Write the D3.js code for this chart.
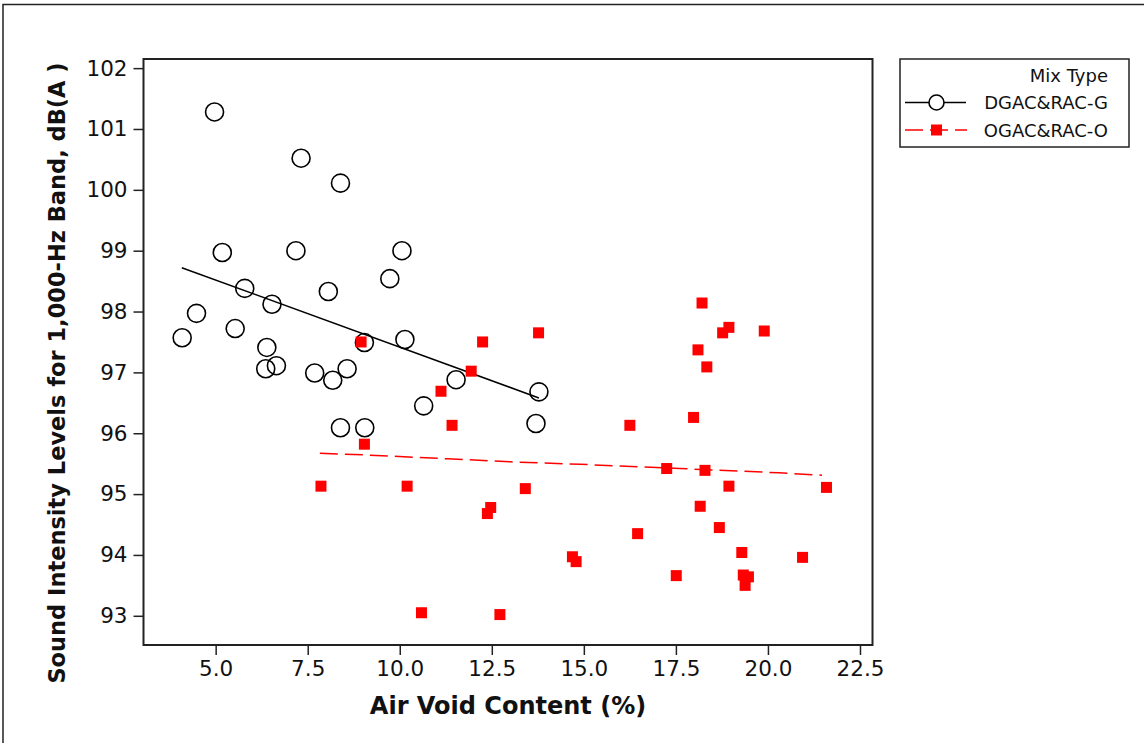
<!DOCTYPE html>
<html>
<head>
<meta charset="utf-8">
<script src="https://cdn.jsdelivr.net/npm/d3@7"></script>
<style>
  html, body { margin: 0; padding: 0; background: #fff; }
  svg { display: block; }
  text { font-family: "DejaVu Sans", Verdana, sans-serif; fill: #111; }
</style>
</head>
<body>
<svg id="chart" width="1144" height="743"></svg>
<script>
// ---- Data ----
const seriesNames = ["DGAC&RAC-G", "OGAC&RAC-O"];
const legendTitle = "Mix Type";
const xTitle = "Air Void Content (%)";
const yTitle = "Sound Intensity Levels for 1,000-Hz Band,  dB(A )";
const xTickValues = [5.0, 7.5, 10.0, 12.5, 15.0, 17.5, 20.0, 22.5];
const yTickValues = [93, 94, 95, 96, 97, 98, 99, 100, 101, 102];

// DGAC&RAC-G (open circles)
const dgacX = [4.97, 7.32, 8.39, 5.18, 7.18, 10.06, 9.73, 5.79, 8.06, 6.53, 4.48, 5.53, 4.09, 9.04,
               10.14, 6.39, 6.36, 6.65, 7.69, 8.18, 8.57, 10.65, 8.39, 9.05, 11.53, 13.78, 13.70];
const dgacY = [101.28, 100.52, 100.11, 98.97, 99.00, 99.00, 98.54, 98.38, 98.33, 98.12, 97.97, 97.72, 97.57, 97.49,
               97.54, 97.41, 97.06, 97.11, 96.99, 96.87, 97.06, 96.45, 96.09, 96.09, 96.88, 96.68, 96.16];

// OGAC&RAC-O (filled squares)
const ogacX = [8.95, 12.25, 13.77, 11.94, 11.12, 11.42, 9.04, 7.86, 10.20, 13.41, 12.47, 12.38, 14.69, 14.79, 10.59, 12.72,
               18.21, 18.94, 18.77, 19.90, 18.10, 18.34, 17.98, 16.25, 17.25, 18.29, 18.94, 21.59, 18.16, 18.68, 16.46,
               19.29, 20.94, 17.51, 19.33, 19.47, 19.38];
const ogacY = [97.50, 97.50, 97.65, 97.02, 96.69, 96.13, 95.82, 95.13, 95.13, 95.09, 94.78, 94.68, 93.97, 93.89, 93.05, 93.02,
               98.14, 97.74, 97.65, 97.68, 97.37, 97.09, 96.26, 96.13, 95.42, 95.39, 95.13, 95.11, 94.80, 94.45, 94.35,
               94.04, 93.96, 93.66, 93.67, 93.64, 93.50];

// Fit lines
const dgacFitX = [4.08, 13.78];
const dgacFitY = [98.72, 96.58];
const ogacFitX = [7.83, 9.2, 11.3, 13.0, 14.9, 17.6, 20.3, 21.47];
const ogacFitY = [95.67, 95.64, 95.58, 95.53, 95.49, 95.42, 95.35, 95.31];

// ---- Drawing ----
const svg = d3.select("#chart");
const L = 143.5, R = 872.5, T = 59, B = 645;
const x = d3.scaleLinear().domain([3.04, 22.84]).range([L, R]);
const y = d3.scaleLinear().domain([92.52, 102.15]).range([B, T]);

// outer frame
svg.append("rect").attr("x", 3).attr("y", 4.5).attr("width", 1200).attr("height", 800)
  .attr("fill", "none").attr("stroke", "#222").attr("stroke-width", 1.5);

// plot frame
svg.append("rect").attr("x", L).attr("y", T).attr("width", R - L).attr("height", B - T)
  .attr("fill", "none").attr("stroke", "#222").attr("stroke-width", 2);

// axes
const xAxis = d3.axisBottom(x).tickValues(xTickValues).tickFormat(d3.format(".1f")).tickSizeOuter(0).tickSize(10).tickPadding(6);
const gx = svg.append("g").attr("transform", `translate(0,${B})`).call(xAxis);
gx.select(".domain").remove();
gx.selectAll(".tick line").attr("stroke", "#222").attr("stroke-width", 1.5);
gx.selectAll(".tick text").attr("font-size", 21.5).attr("font-family", "DejaVu Sans").attr("fill", "#111");

const yAxis = d3.axisLeft(y).tickValues(yTickValues).tickFormat(d3.format("d")).tickSizeOuter(0).tickSize(10).tickPadding(6);
const gy = svg.append("g").attr("transform", `translate(${L},0)`).call(yAxis);
gy.select(".domain").remove();
gy.selectAll(".tick line").attr("stroke", "#222").attr("stroke-width", 1.5);
gy.selectAll(".tick text").attr("font-size", 21.5).attr("font-family", "DejaVu Sans").attr("fill", "#111");

// axis titles
svg.append("text").attr("x", (L + R) / 2).attr("y", 714).attr("text-anchor", "middle")
  .attr("font-size", 24).attr("font-weight", "bold").text(xTitle);
svg.append("text").attr("transform", `translate(65,373) rotate(-90)`).attr("text-anchor", "middle")
  .attr("font-size", 22.5).attr("font-weight", "bold").text(yTitle);

const line = d3.line().x(d => x(d[0])).y(d => y(d[1]));

// fit lines
svg.append("path").datum(dgacFitX.map((v, i) => [v, dgacFitY[i]])).attr("d", line)
  .attr("fill", "none").attr("stroke", "#000").attr("stroke-width", 1.5);
svg.append("path").datum(ogacFitX.map((v, i) => [v, ogacFitY[i]])).attr("d", line)
  .attr("fill", "none").attr("stroke", "#ff0000").attr("stroke-width", 1.5).attr("stroke-dasharray", "18,7");

// circles
svg.append("g").selectAll("circle").data(dgacX.map((v, i) => [v, dgacY[i]])).join("circle")
  .attr("cx", d => x(d[0])).attr("cy", d => y(d[1])).attr("r", 9)
  .attr("fill", "none").attr("stroke", "#000").attr("stroke-width", 1.6);

// squares
const sq = 11;
svg.append("g").selectAll("rect").data(ogacX.map((v, i) => [v, ogacY[i]])).join("rect")
  .attr("x", d => x(d[0]) - sq / 2).attr("y", d => y(d[1]) - sq / 2)
  .attr("width", sq).attr("height", sq).attr("fill", "#ff0000");

// legend
const lg = svg.append("g");
lg.append("rect").attr("x", 900).attr("y", 59).attr("width", 229).attr("height", 88)
  .attr("fill", "#fff").attr("stroke", "#222").attr("stroke-width", 1.5);
lg.append("text").attr("x", 1108).attr("y", 82).attr("text-anchor", "end").attr("font-size", 18).text(legendTitle);
// series 1
lg.append("line").attr("x1", 905).attr("x2", 966).attr("y1", 102.5).attr("y2", 102.5).attr("stroke", "#000").attr("stroke-width", 1.5);
lg.append("circle").attr("cx", 936.5).attr("cy", 102.5).attr("r", 7.5).attr("fill", "#fff").attr("stroke", "#000").attr("stroke-width", 1.6);
lg.append("text").attr("x", 1108).attr("y", 109).attr("text-anchor", "end").attr("font-size", 18).text(seriesNames[0]);
// series 2
lg.append("line").attr("x1", 905).attr("x2", 967).attr("y1", 130).attr("y2", 130).attr("stroke", "#ff0000").attr("stroke-width", 1.5)
  .attr("stroke-dasharray", "18,7");
lg.append("rect").attr("x", 931).attr("y", 124.5).attr("width", 11).attr("height", 11).attr("fill", "#ff0000");
lg.append("text").attr("x", 1108).attr("y", 137).attr("text-anchor", "end").attr("font-size", 18).text(seriesNames[1]);
</script>
</body>
</html>
